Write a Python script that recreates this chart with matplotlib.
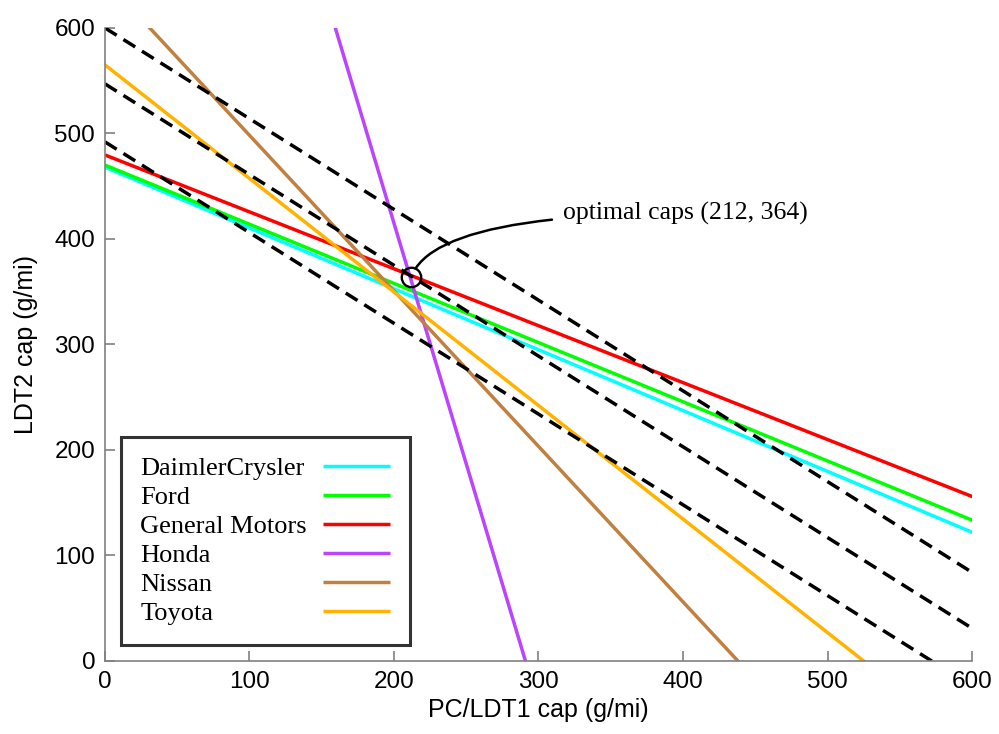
import matplotlib
matplotlib.use("Agg")
import matplotlib.pyplot as plt
import numpy as np

# Data: each manufacturer's cap-trade-off line, given by its intercepts
companies = ["DaimlerCrysler", "Ford", "General Motors", "Honda", "Nissan", "Toyota"]
y_intercepts = [468, 470, 479.6, 1327, 645.7, 565]      # LDT2 cap at PC/LDT1 = 0
x_intercepts = [811.6, 838, 889, 291, 438, 525]         # PC/LDT1 cap at LDT2 = 0
colors = ["#00FFFF", "#00FF00", "#FF0000", "#BB44FF", "#C08040", "#FFB300"]

# iso-lines (dashed), parallel with common slope
iso_intercepts = [600, 547, 492]
iso_slope = -0.86

optimum = (212, 364)
xticks = [0, 100, 200, 300, 400, 500, 600]
yticks = [0, 100, 200, 300, 400, 500, 600]

fig = plt.figure(figsize=(9.99, 7.34), dpi=100)
ax = fig.add_axes([0.105, 0.0995, 0.868, 0.8625])

xs = np.array([0.0, 1000.0])
for name, yi, xi, c in zip(companies, y_intercepts, x_intercepts, colors):
    slope = -yi / xi
    ax.plot(xs, yi + slope * xs, color=c, lw=2.5, label=name, solid_capstyle="butt")

for b in iso_intercepts:
    ax.plot(xs, b + iso_slope * xs, color="black", lw=2.5, dashes=(4.0, 2.3))

ax.plot([optimum[0]], [optimum[1]], marker="o", ms=14, mfc="none", mec="black", mew=1.7)
ax.annotate(f"optimal caps ({optimum[0]}, {optimum[1]})", xy=optimum,
            xytext=(317, 424), textcoords="data",
            fontsize=18.5, family="Liberation Serif", va="center", ha="left",
            arrowprops=dict(arrowstyle="-", color="black", lw=1.8,
                            shrinkA=6, shrinkB=7,
                            connectionstyle="angle3,angleA=0,angleB=70"))

ax.set_xlim(0, 600)
ax.set_ylim(0, 600)
ax.set_xticks(xticks)
ax.set_yticks(yticks)
for s in ["top", "right"]:
    ax.spines[s].set_visible(False)
for s in ["left", "bottom"]:
    ax.spines[s].set_color("#808080")
    ax.spines[s].set_linewidth(1.2)
ax.tick_params(direction="in", length=7, width=1.2, color="#808080", labelsize=17.5, pad=7)
for lab in ax.get_xticklabels() + ax.get_yticklabels():
    lab.set_family("Liberation Sans")
ax.set_xlabel("PC/LDT1 cap (g/mi)", fontsize=18, family="Liberation Sans", labelpad=4)
ax.set_ylabel("LDT2 cap (g/mi)", fontsize=18, family="Liberation Sans", labelpad=12)

leg = ax.legend(loc="lower left", bbox_to_anchor=(0.018, 0.025), markerfirst=False,
                prop={"family": "Liberation Serif", "size": 19}, frameon=True,
                fancybox=False, handlelength=2.54, labelspacing=0.21,
                borderpad=0.75, handletextpad=0.5, borderaxespad=0)
leg.get_frame().set_edgecolor("black")
leg.get_frame().set_linewidth(2.2)
# left-align labels, keep line samples right-aligned
for col in leg._legend_handle_box.get_children():
    col.align = "left"
    col.width = 250
    for row in col.get_children():
        row.mode = "expand"

fig.savefig("out.png", dpi=100)
